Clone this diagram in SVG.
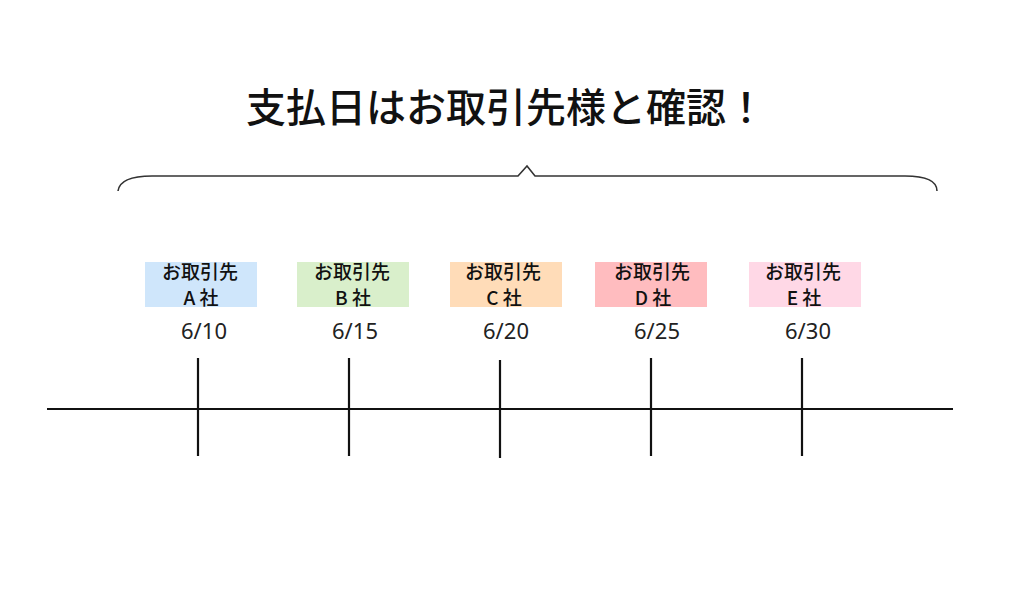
<svg xmlns="http://www.w3.org/2000/svg" width="1024" height="614" viewBox="0 0 1024 614">
<style>
.title{font-family:"Noto Sans CJK JP","Noto Sans",sans-serif;font-size:40px;font-weight:500;fill:#111}
.lbl{font-family:"Noto Sans CJK JP","Noto Sans",sans-serif;font-size:19px;font-weight:500;fill:#111;text-anchor:middle}
.date{font-family:"Noto Sans","Noto Sans CJK JP",sans-serif;font-size:22px;fill:#222;text-anchor:middle}
.ln{stroke:#111;stroke-width:2.2;fill:none}
.brace{stroke:#333;stroke-width:1.6;fill:none}
</style>
<rect width="1024" height="614" fill="#fff"/>
<text class="title" x="506" y="122" text-anchor="middle">支払日はお取引先様と確認！</text>
<path class="brace" d="M118,191 Q120,176 152,176 L518,176 L527,166 L535,176 L905,176 Q937,176 937,191"/>
<g id="nodeA"><rect x="145" y="262" width="112" height="45" fill="#cfe6fb"/><text class="lbl" x="200" y="279">お取引先</text><text class="lbl" x="201" y="305">A 社</text></g>
<g id="nodeB"><rect x="297" y="262" width="112" height="45" fill="#d9efcb"/><text class="lbl" x="352" y="279">お取引先</text><text class="lbl" x="353" y="305">B 社</text></g>
<g id="nodeC"><rect x="450" y="262" width="112" height="45" fill="#ffdcb8"/><text class="lbl" x="503" y="279">お取引先</text><text class="lbl" x="504" y="305">C 社</text></g>
<g id="nodeD"><rect x="595" y="262" width="112" height="45" fill="#ffbcbf"/><text class="lbl" x="652" y="279">お取引先</text><text class="lbl" x="653" y="305">D 社</text></g>
<g id="nodeE"><rect x="749" y="262" width="112" height="45" fill="#ffd8e6"/><text class="lbl" x="803" y="279">お取引先</text><text class="lbl" x="804" y="305">E 社</text></g>
<g id="dates">
<text class="date" x="204" y="339">6/10</text>
<text class="date" x="355" y="339">6/15</text>
<text class="date" x="506" y="339">6/20</text>
<text class="date" x="657" y="339">6/25</text>
<text class="date" x="808" y="339">6/30</text>
</g>
<g id="connectors">
<line class="ln" x1="47" y1="409" x2="953" y2="409"/>
<line class="ln" x1="198" y1="358" x2="198" y2="456"/>
<line class="ln" x1="349" y1="358" x2="349" y2="456"/>
<line class="ln" x1="500" y1="360" x2="500" y2="458"/>
<line class="ln" x1="651" y1="358" x2="651" y2="456"/>
<line class="ln" x1="802" y1="358" x2="802" y2="456"/>
</g>
</svg>
